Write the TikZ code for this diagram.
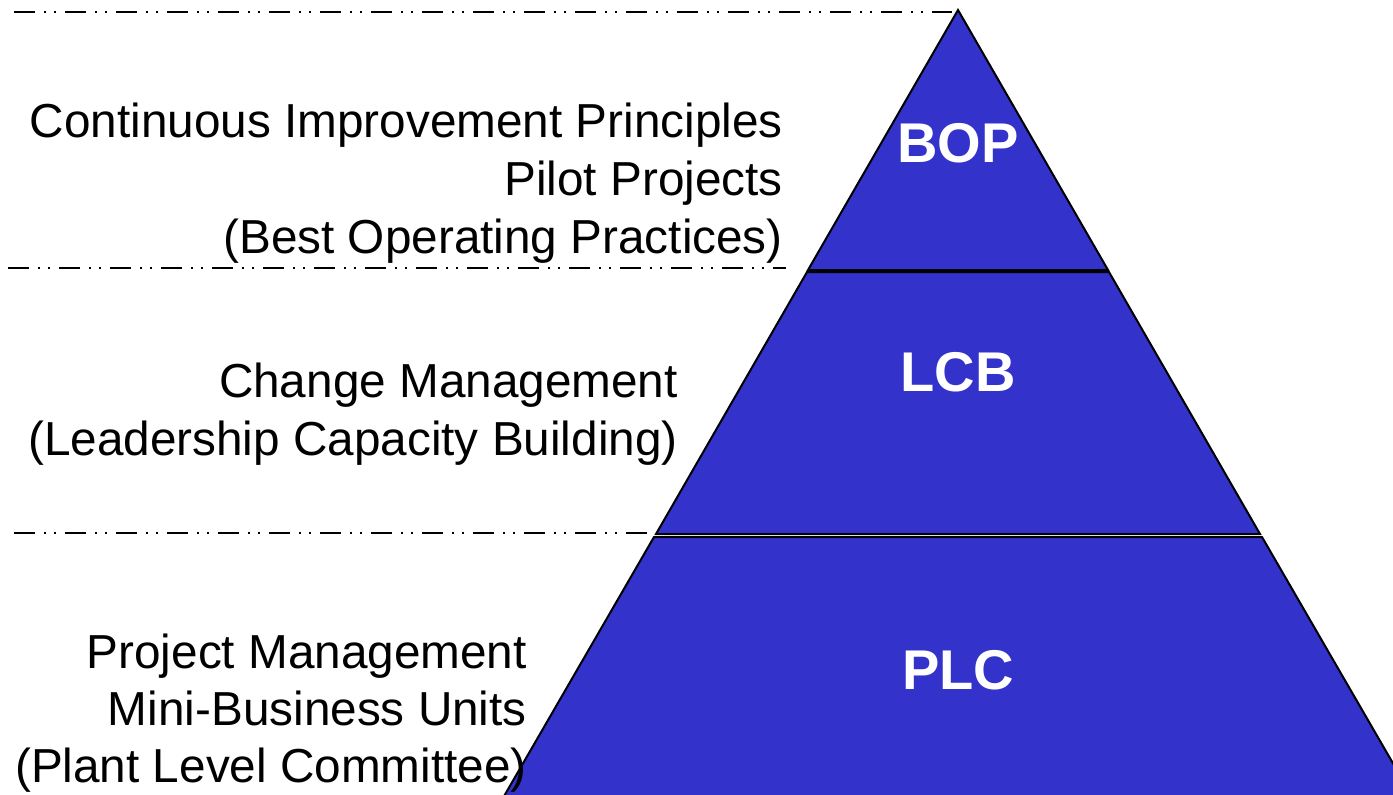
\documentclass[tikz,border=0pt]{standalone}
\usepackage{fontspec}
\setmainfont{Liberation Sans}
\definecolor{pyr}{RGB}{51,51,204}
\begin{document}
\begin{tikzpicture}[x=1pt,y=-1pt,
  layer/.style={fill=pyr,draw=black,line width=2pt,line join=miter},
  sep/.style={line width=2pt,dash pattern=on 21pt off 9pt on 2pt off 8pt on 2pt off 9pt},
  lbl/.style={anchor=base east,inner sep=0pt,font=\fontsize{47.7}{56}\selectfont},
  tag/.style={text=white,inner sep=0pt,font=\fontsize{56}{60}\selectfont\bfseries}]
\useasboundingbox (0,0) rectangle (1393,795);
\begin{scope}
\clip (0,0) rectangle (1393,795);
% pyramid layers
\coordinate (apex) at (958,10);
\draw[layer] (apex) -- (1108,270) -- (808,270) -- cycle;
\draw[layer] (807,272) -- (1109,272) -- (1260,534) -- (656,534) -- cycle;
\draw[layer] (654,537) -- (1262,537) -- (1420,810) -- (496,810) -- cycle;
\end{scope}
\node[tag] (bop) at (958,143) {BOP};
\node[tag] (lcb) at (958,372) {LCB};
\node[tag] (plc) at (958,670) {PLC};
% separators
\coordinate (s1a) at (14,12);   \coordinate (s1b) at (952,12);
\coordinate (s2a) at (8,268);   \coordinate (s2b) at (786,268);
\coordinate (s3a) at (14,533);  \coordinate (s3b) at (648,533);
\draw[sep] (s1a) -- (s1b);
\draw[sep] (s2a) -- (s2b);
\draw[sep] (s3a) -- (s3b);
% labels
\node[lbl] (t1a) at (783,137) {Continuous Improvement Principles};
\node[lbl] (t1b) at (783,195) {Pilot Projects};
\node[lbl] (t1c) at (783,253) {(Best Operating Practices)};
\node[lbl] (t2a) at (678,397) {Change Management};
\node[lbl] (t2b) at (678,455) {(Leadership Capacity Building)};
\node[lbl] (t3a) at (527,668) {Project Management};
\node[lbl] (t3b) at (527,725) {Mini-Business Units};
\node[lbl] (t3c) at (527,782) {(Plant Level Committee)};
\end{tikzpicture}
\end{document}
